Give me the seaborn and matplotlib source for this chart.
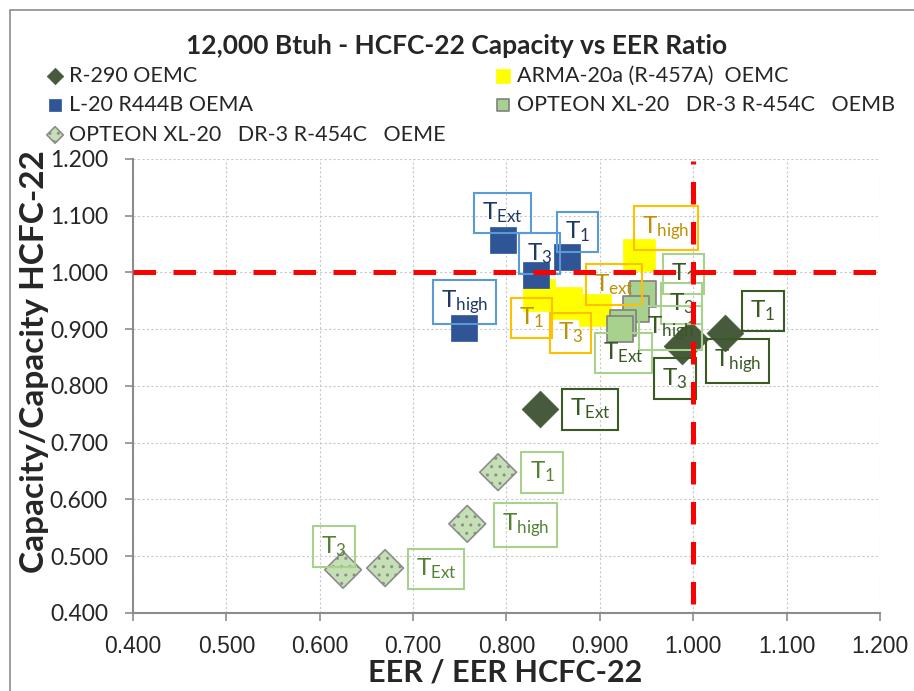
import numpy as np
import pandas as pd
import matplotlib
matplotlib.use('Agg')
import matplotlib.pyplot as plt
from matplotlib.patches import Rectangle
import seaborn as sns

sns.set_style('white')
plt.rcParams['font.family'] = ['Lato', 'DejaVu Sans']
plt.rcParams['mathtext.default'] = 'regular'

## data (EER ratio, capacity ratio)
series = ['R-290 OEMC', 'ARMA-20a (R-457A)  OEMC', 'L-20 R444B OEMA',
          'OPTEON XL-20   DR-3 R-454C   OEMB', 'OPTEON XL-20   DR-3 R-454C   OEME']

r290_pts = ['T1', 'Thigh', 'T3', 'TExt']
r290_eer = [1.034, 0.996, 0.988, 0.836]
r290_cap = [0.893, 0.883, 0.871, 0.759]

arma_pts = ['Thigh', 'Text', 'T1', 'T3']
arma_eer = [0.942, 0.895, 0.835, 0.864]
arma_cap = [1.031, 0.933, 0.960, 0.946]

l20_pts = ['TExt', 'T3', 'T1', 'Thigh']
l20_eer = [0.796, 0.832, 0.865, 0.754]
l20_cap = [1.057, 0.996, 1.027, 0.902]

oemb_pts = ['T1', 'T3', 'Thigh', 'TExt']
oemb_eer = [0.946, 0.939, 0.925, 0.922]
oemb_cap = [0.962, 0.936, 0.911, 0.900]

oeme_pts = ['T1', 'Thigh', 'T3', 'TExt']
oeme_eer = [0.791, 0.758, 0.625, 0.670]
oeme_cap = [0.648, 0.557, 0.476, 0.479]

label_text = {'T1': 'T$_1$', 'T3': 'T$_3$', 'Thigh': 'T$_{high}$',
              'TExt': 'T$_{Ext}$', 'Text': 'T$_{ext}$'}

frames = []
for name, pts, ex, cp in zip(series,
                             [r290_pts, arma_pts, l20_pts, oemb_pts, oeme_pts],
                             [r290_eer, arma_eer, l20_eer, oemb_eer, oeme_eer],
                             [r290_cap, arma_cap, l20_cap, oemb_cap, oeme_cap]):
    frames.append(pd.DataFrame({'series': name, 'point': pts, 'eer': ex, 'cap': cp}))
df = pd.concat(frames, ignore_index=True)

## styles
styles = {
    series[0]: dict(marker='D', s=350, color='#475a3c', edgecolor='#475a3c', lw=0.5),
    series[1]: dict(marker='s', s=520, color='#ffff00', edgecolor='#ffff00', lw=0.5),
    series[2]: dict(marker='s', s=330, color='#2f5597', edgecolor='#2f5597', lw=0.5),
    series[3]: dict(marker='s', s=330, color='#a9d18e', edgecolor='#808080', lw=1.2),
    series[4]: dict(marker='D', s=350, color='#c5e0b4', edgecolor='#8c8c8c', lw=1.2, hatch='..'),
}
lab_style = {
    series[0]: ('#3a5a24', '#3a5a24'),
    series[1]: ('#ffc000', '#bf9000'),
    series[2]: ('#5b9bd5', '#203864'),
    series[3]: ('#a9d18e', '#385723'),
    series[4]: ('#a9d18e', '#548235'),
}
# label offsets in pixels (dx, dy up)
offsets = {
    series[0]: [(38, 22), (48, -22), (-7, -33), (50, 0)],
    series[1]: [(27, 27), (19, 26), (-8, -23), (4, -30)],
    series[2]: [(0, 27), (3, 21), (10, 25), (1, 26)],
    series[3]: [(41, 20), (45, 5), (47, -5), (3, -24)],
    series[4]: [(44, 0), (58, -1), (-9, 23), (51, -1)],
}

fig = plt.figure(figsize=(9.14, 6.91), dpi=100)
ax = fig.add_axes([0.1455, 0.113, 0.8173, 0.657])

plt.rcParams['hatch.color'] = 'white'
for name in series:
    sub = df[df['series'] == name]
    st = dict(styles[name])
    sns.scatterplot(data=sub, x='eer', y='cap', ax=ax, label=name, zorder=3, **st)

for name in series:
    sub = df[df['series'] == name]
    edge, tcol = lab_style[name]
    for (_, r), (dx, dy) in zip(sub.iterrows(), offsets[name]):
        ax.annotate(label_text[r['point']], (r['eer'], r['cap']), xytext=(dx, dy),
                    textcoords='offset pixels', ha='center', va='center',
                    fontsize=17.5, color=tcol, zorder=5,
                    bbox=dict(boxstyle='square,pad=0.33', fc='none', ec=edge, lw=1.5))

# reference lines
ax.axhline(1.0, color='#ff0000', lw=3.6, dashes=(4.5, 3.5), zorder=6)
ax.axvline(1.0, ymax=0.995, ymin=0.02, color='#ff0000', lw=3.6, dashes=(4.5, 3.5), zorder=6)

ax.set_xlim(0.4, 1.2)
ax.set_ylim(0.4, 1.2)
ticks = np.arange(0.4, 1.21, 0.1)
ax.set_xticks(ticks)
ax.set_yticks(ticks)
ax.set_xticklabels([f'{t:.3f}' for t in ticks], fontsize=16.5, family='Liberation Sans')
ax.set_yticklabels([f'{t:.3f}' for t in ticks], fontsize=16.5)
ax.grid(True, color='#c8c8c8', ls=(0, (2, 2)), lw=0.8)
ax.set_axisbelow(True)
for sp in ['top', 'right']:
    ax.spines[sp].set_visible(False)
for sp in ['left', 'bottom']:
    ax.spines[sp].set_color('#8c8c8c')
    ax.spines[sp].set_linewidth(1.5)
ax.tick_params(axis='both', which='major', length=6, width=1.2, color='#8c8c8c',
               direction='out', left=True, bottom=True)
ax.tick_params(axis='x', pad=10)
ax.tick_params(axis='y', pad=12)

ax.set_xlabel('EER / EER HCFC-22', fontsize=22, fontweight='bold')
ax.set_ylabel('Capacity/Capacity HCFC-22', fontsize=24, fontweight='bold')
ax.xaxis.set_label_coords(0.498, -0.1)
ax.yaxis.set_label_coords(-0.112, 0.553)

fig.suptitle('12,000 Btuh - HCFC-22 Capacity vs EER Ratio', x=0.499, y=0.951,
             fontsize=19, fontweight='bold')

handles, labels = ax.get_legend_handles_labels()
ax.legend_.remove()
order = [0, 2, 4, 1, 3]
fig.legend([handles[i] for i in order], [labels[i] for i in order], ncol=2,
           loc='upper left', bbox_to_anchor=(0.052, 0.905), frameon=False,
           fontsize=15.5, markerscale=0.45, handlelength=0.7, handletextpad=0.3,
           columnspacing=2.3, labelspacing=0.44, borderpad=0, borderaxespad=0)

fig.patches.append(Rectangle((0.011, -0.1), 1.2, 1.1 - 0.015, transform=fig.transFigure,
                             fill=False, ec='#8c8c8c', lw=1.2))

fig.savefig('out.png', dpi=100)
